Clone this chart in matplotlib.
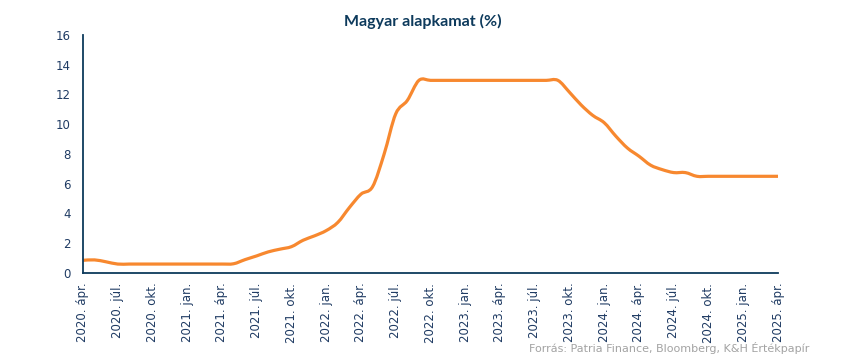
import matplotlib.pyplot as plt
import numpy as np
from matplotlib.path import Path
from matplotlib.patches import PathPatch

# monthly base rate, 2020 Apr .. 2025 Apr
rate = [0.85, 0.88, 0.75, 0.6, 0.6, 0.6, 0.6, 0.6, 0.6, 0.6,
        0.6, 0.6, 0.6, 0.62, 0.9, 1.15, 1.42, 1.6, 1.77, 2.2,
        2.5, 2.85, 3.4, 4.4, 5.3, 5.8, 8.0, 10.7, 11.6, 12.95,
        12.95, 12.95, 12.95, 12.95, 12.95, 12.95, 12.95, 12.95, 12.95, 12.95,
        12.95, 12.95, 12.15, 11.3, 10.6, 10.1, 9.2, 8.4, 7.85, 7.25,
        6.95, 6.75, 6.75, 6.5, 6.5, 6.5, 6.5, 6.5, 6.5, 6.5, 6.5]

years = ["2020", "2020", "2020", "2021", "2021", "2021", "2021", "2022", "2022", "2022", "2022",
         "2023", "2023", "2023", "2023", "2024", "2024", "2024", "2024", "2025", "2025"]
months = ["ápr.", "júl.", "okt.", "jan."] * 5 + ["ápr."]
tick_labels = [f"{y}. {m}" for y, m in zip(years, months)]

navy = "#0d3a5c"
label_col = "#1f3b63"
orange = "#f7882f"


def smooth_path(xs, ys, t=1 / 6):
    # excel-style smoothed line: cubic bezier segments through the data points
    pts = np.column_stack([xs, ys])
    verts = [pts[0]]
    codes = [Path.MOVETO]
    n = len(pts)
    for i in range(n - 1):
        p0 = pts[max(i - 1, 0)]
        p1 = pts[i]
        p2 = pts[i + 1]
        p3 = pts[min(i + 2, n - 1)]
        verts += [p1 + (p2 - p0) * t, p2 - (p3 - p1) * t, p2]
        codes += [Path.CURVE4] * 3
    return Path(verts, codes)


plt.rcParams['font.family'] = ['DejaVu Sans']

fig = plt.figure(figsize=(8.5, 3.59), dpi=100)
ax = fig.add_axes([0.0976, 0.2396, 0.8177, 0.6629])

x = np.arange(len(rate))
ax.add_patch(PathPatch(smooth_path(x, rate), facecolor="none", edgecolor=orange,
                       linewidth=2.3, capstyle="butt", joinstyle="round"))

ax.set_xlim(0, 60)
ax.set_ylim(0, 16)
ax.set_yticks(range(0, 17, 2))
ax.set_xticks(range(0, 61, 3))
ax.set_xticklabels(tick_labels, rotation=90)

for s in ["top", "right"]:
    ax.spines[s].set_visible(False)
for s in ["left", "bottom"]:
    ax.spines[s].set_color(navy)
    ax.spines[s].set_linewidth(1.3)

ax.tick_params(axis="both", length=0, colors=label_col, labelsize=8.5)
ax.tick_params(axis="y", pad=9)
ax.tick_params(axis="x", pad=7)

fig.text(0.497, 0.94, "Magyar alapkamat (%)", ha="center", va="center",
         fontsize=11.5, fontweight="bold", color="#0d3a5c", family="Lato")
fig.text(0.952, 0.03, "Forrás: Patria Finance, Bloomberg, K&H Értékpapír",
         ha="right", va="center", fontsize=8, color="#a3a3a3")

fig.savefig("out.png", dpi=100)
